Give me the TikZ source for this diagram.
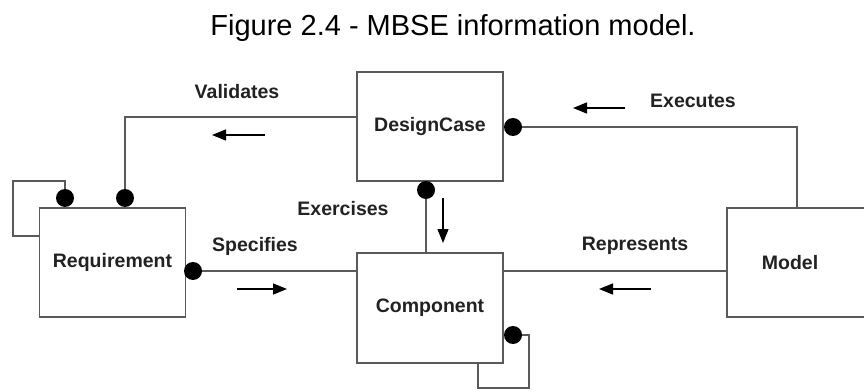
\documentclass[tikz,border=0pt]{standalone}
\usepackage{fontspec}
\setmainfont{Liberation Sans}
\usetikzlibrary{arrows.meta}
\definecolor{linegray}{HTML}{5A5A5A}
\definecolor{txtgray}{HTML}{222222}
\begin{document}
\begin{tikzpicture}[x=1pt,y=-1pt,
  box/.style={draw=linegray, line width=1.6pt, minimum width=146pt, minimum height=109pt, inner sep=0pt,
    font=\fontsize{19.5}{22}\selectfont\bfseries, text=txtgray},
  txt/.style={font=\fontsize{19.5}{22}\selectfont\bfseries, text=txtgray, inner sep=0pt},
  conn/.style={draw=linegray, line width=1.6pt},
  dotnode/.style={circle, fill=black, minimum size=18pt, inner sep=0pt},
  dirarrow/.style={line width=1.4pt, -{Triangle[length=14pt,width=11pt]}}]
\useasboundingbox (0,0) rectangle (864,390);
\fill[white] (0,0) rectangle (864,390);

% title
\node[anchor=base, font=\fontsize{29}{32}\selectfont, inner sep=0pt] (title) at (453,36) {Figure 2.4 - MBSE information model.};

% boxes
\node[box] (req) at (112.5,262.5) {Requirement};
\node[box] (dc) at (430,126.5) {DesignCase};
\node[box, minimum height=110pt] (comp) at (430,308) {Component};
\begin{scope}
  \clip (0,0) rectangle (864,390);
  \node[box, minimum width=180pt] (model) at (817,262.5) {};
\end{scope}
\node[txt] (modeltxt) at (790,263) {Model};

% bend coordinates
\coordinate (rloop1) at (13,181);
\coordinate (rloop2) at (13,236);
\coordinate (vbend) at (125,117);
\coordinate (ebend) at (797,127);
\coordinate (cloop1) at (529,335);
\coordinate (cloop2) at (478,388);

% connectors
\draw[conn] (req.west |- rloop2) -| (rloop1) -| (65,198);
\draw[conn] (125,198) |- (dc.west |- vbend);
\draw[conn] (193,271) -- (comp.west |- 0,271);
\draw[conn] (426,190) -- (comp.north -| 426,0);
\draw[conn] (513,127) -| (model.north -| ebend);
\draw[conn] (comp.east |- 0,271) -- (model.west |- 0,271);
\draw[conn] (513,335) -| (cloop1 |- cloop2) -| (comp.south -| cloop2);

% dots
\node[dotnode] (d0) at (65,198) {};
\node[dotnode] (d1) at (125,198) {};
\node[dotnode] (d2) at (193,271) {};
\node[dotnode] (d3) at (426,190) {};
\node[dotnode] (d4) at (513,127) {};
\node[dotnode] (d5) at (513,335) {};

% direction arrows
\draw[dirarrow] (265,135) -- (212,135);
\draw[dirarrow] (237,289) -- (287,289);
\draw[dirarrow] (443,198) -- (443,243);
\draw[dirarrow] (625,108) -- (573,108);
\draw[dirarrow] (651,289) -- (599,289);

% labels
\node[txt] (lval) at (237,92) {Validates};
\node[txt] (lspec) at (255,246) {Specifies};
\node[txt] (lexer) at (343,209) {Exercises};
\node[txt] (lexec) at (693,101) {Executes};
\node[txt] (lrep) at (635,246) {Represents};
\end{tikzpicture}
\end{document}
